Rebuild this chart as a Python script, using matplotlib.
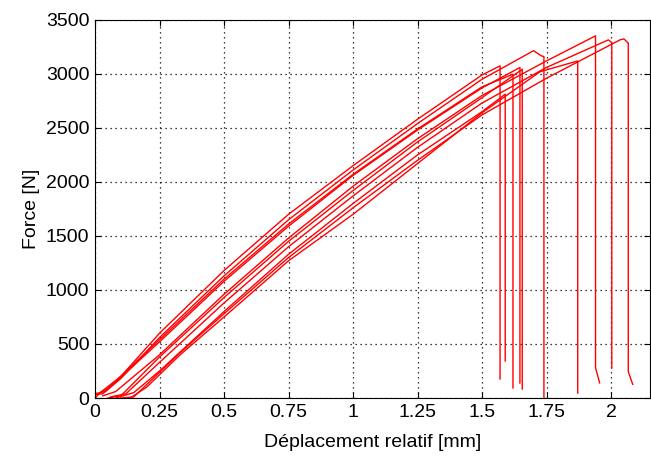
import matplotlib.pyplot as plt

# one list per specimen: (x [mm], force [N])
x1 = [0, 0.02, 0.1, 0.25, 0.5, 0.75, 1.0, 1.25, 1.5, 1.57, 1.57]
y1 = [0, 50, 200, 600, 1180, 1700, 2150, 2580, 2990, 3074, 176]

x2 = [0.08, 0.15, 0.25, 0.5, 0.75, 1.0, 1.25, 1.5, 1.59, 1.59]
y2 = [0, 50, 250, 800, 1330, 1800, 2250, 2650, 2812, 343]

x3 = [0.02, 0.05, 0.25, 0.5, 0.75, 1.0, 1.25, 1.5, 1.62, 1.62]
y3 = [50, 90, 540, 1100, 1610, 2070, 2490, 2880, 2997, 93]

x4 = [0.0, 0.04, 0.25, 0.5, 0.75, 1.0, 1.25, 1.5, 1.647, 1.647]
y4 = [40, 60, 520, 1080, 1590, 2060, 2480, 2870, 3059, 139]

x5 = [0.05, 0.1, 0.25, 0.5, 0.75, 1.0, 1.25, 1.5, 1.656, 1.656]
y5 = [0, 20, 380, 930, 1450, 1920, 2370, 2780, 3043, 83]

x6 = [0, 0.03, 0.1, 0.25, 0.5, 0.75, 1.0, 1.25, 1.5, 1.70, 1.73, 1.74, 1.74]
y6 = [30, 40, 180, 560, 1130, 1650, 2110, 2540, 2950, 3215, 3167, 3160, 0]

x7 = [0.136, 0.2, 0.33, 0.5, 0.75, 1.0, 1.25, 1.5, 1.725, 1.871, 1.871]
y7 = [0, 100, 400, 750, 1270, 1700, 2170, 2640, 3020, 3120, 46]

x8 = [0.03, 0.08, 0.25, 0.5, 0.75, 1.0, 1.25, 1.5, 1.75, 1.94, 1.94, 1.956]
y8 = [20, 60, 400, 960, 1480, 1960, 2400, 2800, 3120, 3352, 280, 140]

x9 = [0.06, 0.12, 0.25, 0.5, 0.75, 1.0, 1.25, 1.5, 1.75, 1.99, 2.003, 2.003]
y9 = [10, 40, 330, 880, 1400, 1870, 2320, 2730, 3060, 3315, 3290, 278]

x10 = [0.1, 0.15, 0.33, 0.5, 0.75, 1.0, 1.25, 1.5, 1.75, 2.035, 2.05, 2.067, 2.067, 2.084]
y10 = [0, 10, 420, 780, 1300, 1760, 2200, 2620, 2960, 3315, 3324, 3284, 244, 127]

xs = [x1, x2, x3, x4, x5, x6, x7, x8, x9, x10]
ys = [y1, y2, y3, y4, y5, y6, y7, y8, y9, y10]

xticks = [0, 0.25, 0.5, 0.75, 1, 1.25, 1.5, 1.75, 2]
xticklabels = ['0', '0.25', '0.5', '0.75', '1', '1.25', '1.5', '1.75', '2']
yticks = [0, 500, 1000, 1500, 2000, 2500, 3000, 3500]

plt.rcParams['font.family'] = ['Liberation Sans', 'DejaVu Sans']

fig = plt.figure(figsize=(6.51, 4.62), dpi=100)
ax = fig.add_axes([0.146, 0.1385, 0.852, 0.8185])

for x, y in zip(xs, ys):
    ax.plot(x, y, color='red', lw=1.0)

ax.set_xlim(0, 2.15)
ax.set_ylim(0, 3500)
ax.set_xticks(xticks)
ax.set_xticklabels(xticklabels)
ax.set_yticks(yticks)
ax.tick_params(direction='in', top=True, right=True, labelsize=14, length=4, pad=4)
ax.grid(True, linestyle=(0, (1, 3)), color='black', linewidth=0.9)
for s in ax.spines.values():
    s.set_linewidth(0.8)

ax.set_xlabel('Déplacement relatif [mm]', fontsize=14, labelpad=10)
ax.set_ylabel('Force [N]', fontsize=14, labelpad=4)

fig.savefig('out.png', dpi=100)
